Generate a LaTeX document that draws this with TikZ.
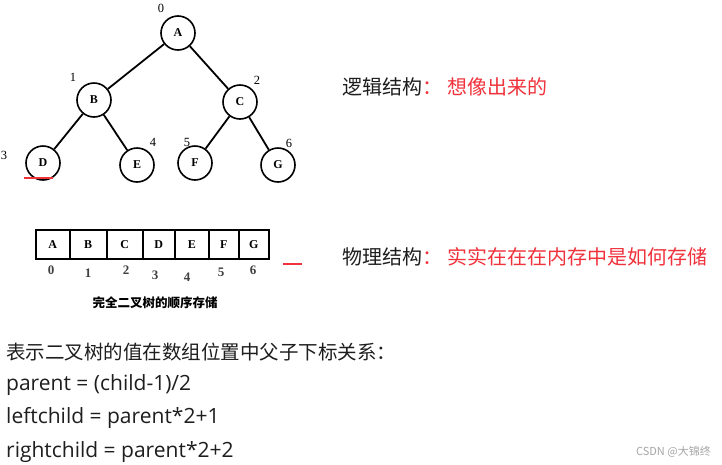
\documentclass[tikz,border=0pt]{standalone}
\usepackage{fontspec}
\setmainfont{Liberation Serif}
\newfontfamily\cjk{Noto Sans CJK SC}
\newfontfamily\latinui{Open Sans}
\definecolor{redtxt}{RGB}{240,50,60}
\definecolor{darktxt}{RGB}{30,30,30}
\begin{document}
\begin{tikzpicture}[x=1pt,y=-1pt,
  tnode/.style={circle,draw,line width=1.6pt,minimum size=34pt,inner sep=0pt,font=\bfseries\fontsize{12}{12}\selectfont},
  tedge/.style={line width=1.8pt},
  idx/.style={font=\fontsize{12.5}{12}\selectfont,inner sep=0pt},
  aidx/.style={font=\bfseries\fontsize{13}{13}\selectfont,inner sep=0pt,text=darktxt!85},
  cell/.style={draw,line width=1.5pt,minimum height=29pt,inner sep=0pt,anchor=north west,font=\bfseries\fontsize{12}{12}\selectfont},
  cjktxt/.style={font=\cjk\fontsize{20}{20}\selectfont,anchor=west,inner sep=0pt,text=darktxt},
  btxt/.style={font=\cjk\fontsize{19.5}{20}\selectfont,anchor=west,inner sep=0pt,text=darktxt},
  ltxt/.style={font=\latinui\fontsize{21}{21}\selectfont,anchor=west,inner sep=0pt,text=darktxt}]
\useasboundingbox[fill=white] (0,0) rectangle (722,464);
% tree
\node[tnode] (A) at (178,33) {A};
\node[tnode] (B) at (94,100) {B};
\node[tnode] (C) at (240,102) {C};
\node[tnode] (D) at (43,163) {D};
\node[tnode] (E) at (137,165) {E};
\node[tnode] (F) at (195,163) {F};
\node[tnode] (G) at (278,165) {G};
\draw[tedge] (A) -- (B);
\draw[tedge] (A) -- (C);
\draw[tedge] (B) -- (D);
\draw[tedge] (B) -- (E);
\draw[tedge] (C) -- (F);
\draw[tedge] (C) -- (G);
\node[idx] (i0) at (161,8) {0};
\node[idx] (i1) at (73,77) {1};
\node[idx] (i2) at (257,80) {2};
\node[idx] (i3) at (4,155) {3};
\node[idx] (i4) at (153,142) {4};
\node[idx] (i5) at (187,142) {5};
\node[idx] (i6) at (289,143) {6};
\coordinate (u1) at (24,178);
\coordinate (u2) at (53,178);
\draw[redtxt,line width=1.2pt] (u1) -- (u2);
% array
\node[cell,minimum width=34pt] (cA) at (35,229) {A};
\node[cell,minimum width=37pt] (cB) at (69,229) {B};
\node[cell,minimum width=36pt] (cC) at (106,229) {C};
\node[cell,minimum width=32pt] (cD) at (142,229) {D};
\node[cell,minimum width=34pt] (cE) at (174,229) {E};
\node[cell,minimum width=30pt] (cF) at (208,229) {F};
\node[cell,minimum width=30pt] (cG) at (238,229) {G};
\node[aidx] (a0) at (51,270) {0};
\node[aidx] (a1) at (88,273) {1};
\node[aidx] (a2) at (126,270) {2};
\node[aidx] (a3) at (155,275) {3};
\node[aidx] (a4) at (187,277) {4};
\node[aidx] (a5) at (221,272) {5};
\node[aidx] (a6) at (253,270) {6};
\node[font=\cjk\bfseries\fontsize{12.5}{13}\selectfont,inner sep=0pt] (cap) at (155,303) {完全二叉树的顺序存储};
\coordinate (r1) at (283,264);
\coordinate (r2) at (302,264);
\draw[redtxt,line width=1.2pt] (r1) -- (r2);
% right texts
\node[cjktxt] (logic) at (342,87) {逻辑结构\textcolor{redtxt}{：\hspace{5pt}想像出来的}};
\node[cjktxt] (phys) at (342,257) {物理结构\textcolor{redtxt}{：\hspace{5pt}实实在在在内存中是如何存储}};
% bottom texts
\node[btxt] (l1) at (6,352) {表示二叉树的值在数组位置中父子下标关系：};
\node[ltxt] (l2) at (6,385) {parent = (child-1)/2};
\node[ltxt] (l3) at (6,418) {leftchild = parent*2+1};
\node[ltxt] (l4) at (6,452) {rightchild = parent*2+2};
\node[font=\cjk\fontsize{11}{11}\selectfont,text=gray!70,anchor=east,inner sep=0pt] (wm) at (711,452) {CSDN @大锦终};
\end{tikzpicture}
\end{document}
